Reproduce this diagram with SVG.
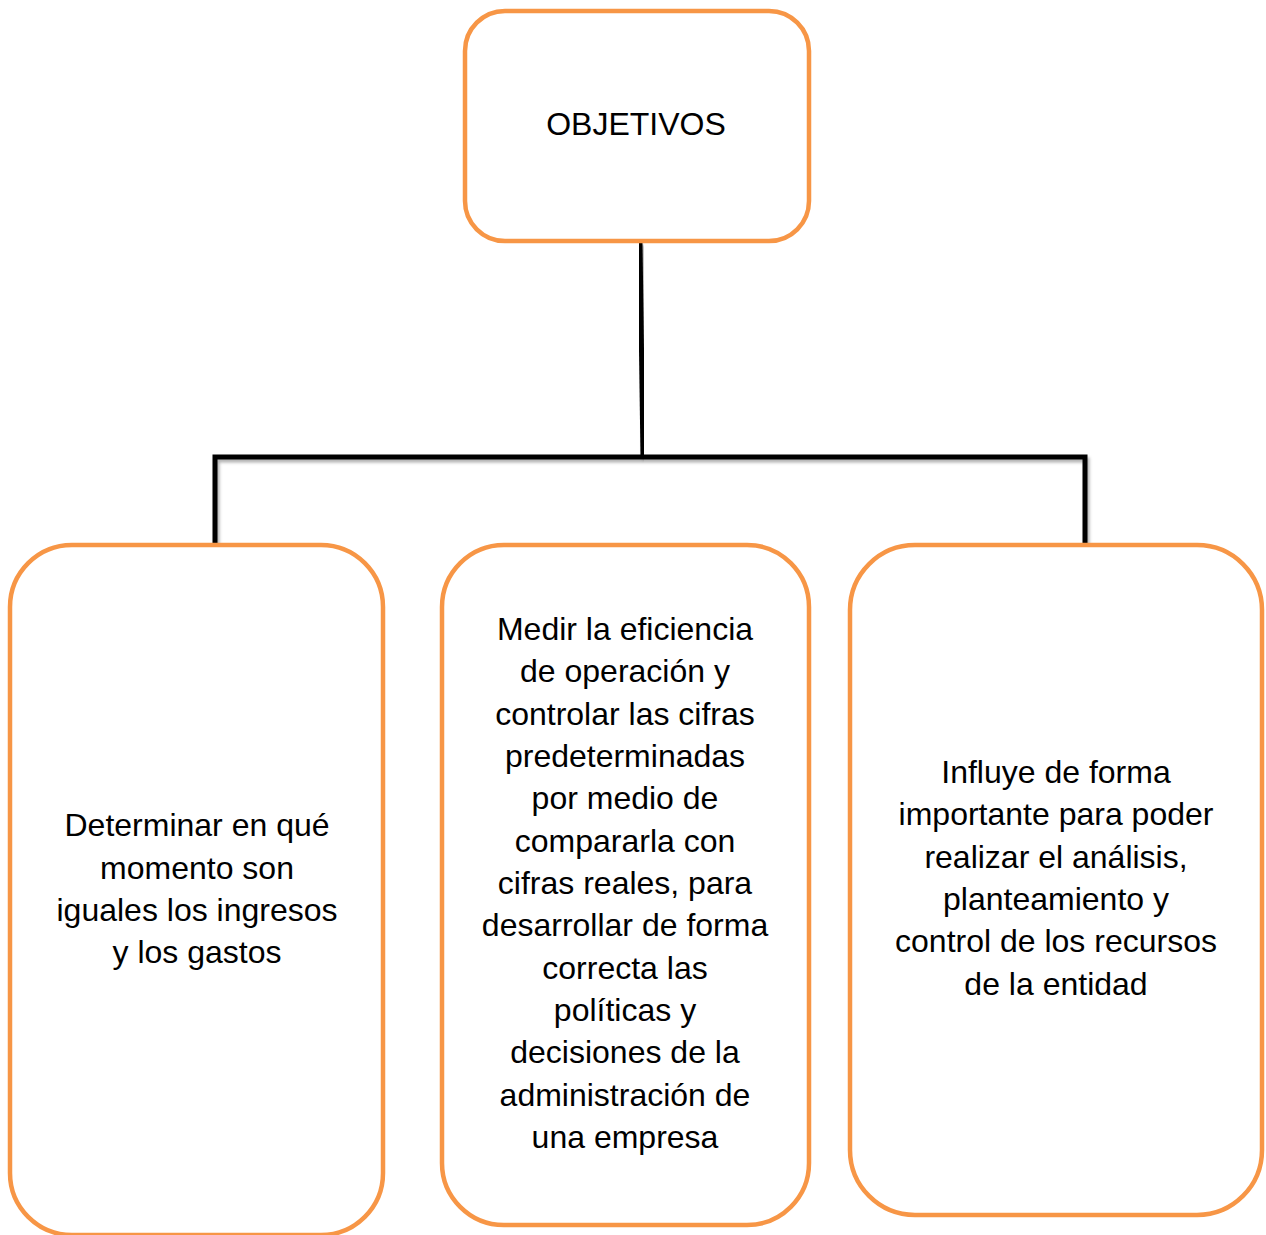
<svg xmlns="http://www.w3.org/2000/svg" width="1266" height="1235" viewBox="0 0 1266 1235">
<style>
.box{fill:#fff;stroke:#F79646;stroke-width:4.5}
.lbl{font-family:"Liberation Sans",Arial,sans-serif;font-size:32px;fill:#000;text-anchor:middle}
.con{stroke:#000;stroke-width:5;fill:none;stroke-linejoin:miter;filter:url(#sh)}
</style>
<defs>
<filter id="sh" x="-10%" y="-10%" width="120%" height="120%">
<feDropShadow dx="2" dy="3" stdDeviation="1.5" flood-color="#000" flood-opacity="0.3"/>
</filter>
</defs>
<g id="connectors">
<path class="con" d="M640,242 L643,457"/>
<path class="con" d="M215,545 L215,457 L1085,457 L1085,545"/>
<path class="con" d="M643,457 L643,545"/>
</g>
<g id="objetivos">
<rect class="box" x="465" y="11" width="344" height="230" rx="40"/>
<text class="lbl" x="636" y="135">OBJETIVOS</text>
</g>
<g id="determinar">
<rect class="box" x="10" y="545" width="373" height="690" rx="62"/>
<text class="lbl" x="197"><tspan x="197" y="836">Determinar en qué</tspan><tspan x="197" y="879">momento son</tspan><tspan x="197" y="921">iguales los ingresos</tspan><tspan x="197" y="963">y los gastos</tspan></text>
</g>
<g id="medir">
<rect class="box" x="442" y="545" width="367" height="680" rx="62"/>
<text class="lbl" x="625"><tspan x="625" y="640">Medir la eficiencia</tspan><tspan x="625" y="682">de operación y</tspan><tspan x="625" y="725">controlar las cifras</tspan><tspan x="625" y="767">predeterminadas</tspan><tspan x="625" y="809">por medio de</tspan><tspan x="625" y="852">compararla con</tspan><tspan x="625" y="894">cifras reales, para</tspan><tspan x="625" y="936">desarrollar de forma</tspan><tspan x="625" y="979">correcta las</tspan><tspan x="625" y="1021">políticas y</tspan><tspan x="625" y="1063">decisiones de la</tspan><tspan x="625" y="1106">administración de</tspan><tspan x="625" y="1148">una empresa</tspan></text>
</g>
<g id="influye">
<rect class="box" x="850" y="545" width="412" height="670" rx="65"/>
<text class="lbl" x="1056"><tspan x="1056" y="783">Influye de forma</tspan><tspan x="1056" y="825">importante para poder</tspan><tspan x="1056" y="868">realizar el análisis,</tspan><tspan x="1056" y="910">planteamiento y</tspan><tspan x="1056" y="952">control de los recursos</tspan><tspan x="1056" y="995">de la entidad</tspan></text>
</g>
</svg>
